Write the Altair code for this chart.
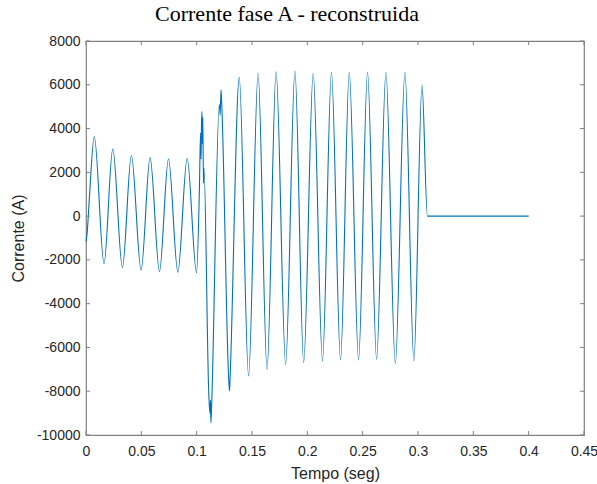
import altair as alt
import pandas as pd

# Waveform samples (time in s, current in A)
t_vals = [0.0000, 0.0010, 0.0030, 0.0075, 0.0163, 0.0242, 0.0329, 0.0410, 0.0498,
          0.0579, 0.0664, 0.0745, 0.0830, 0.0914, 0.0999,
          0.1025, 0.1035, 0.1040, 0.1044, 0.1048, 0.1052, 0.1056, 0.1061, 0.1066,
          0.1110, 0.1120, 0.1125, 0.1129, 0.1135,
          0.1205, 0.1212, 0.1220, 0.1226,
          0.1290, 0.1297, 0.1302,
          0.1385, 0.1469, 0.1555, 0.1636, 0.1718, 0.1804, 0.1888, 0.1967,
          0.2053, 0.2137, 0.2218, 0.2300, 0.2379, 0.2463, 0.2544, 0.2626,
          0.2710, 0.2795, 0.2882, 0.2963, 0.3036, 0.3085, 0.3090, 0.4000]
i_vals = [-1150, -800, 800, 3640, -2170, 3080, -2360, 2770, -2470,
          2670, -2530, 2620, -2560, 2640, -2590,
          1300, 3800, 2600, 4300, 4780, 3300, 4500, 1500, 2200,
          -8200, -9000, -8400, -9450, -8700,
          5100, 4600, 5770, 5200,
          -7500, -7990, -7400,
          6340, -7300, 6530, -7000, 6590, -6770, 6630, -6690,
          6530, -6620, 6570, -6570, 6570, -6570, 6570, -6540,
          6570, -6740, 6570, -6620, 6000, 0, 0, 0]

x_ticks = [0, 0.05, 0.1, 0.15, 0.2, 0.25, 0.3, 0.35, 0.4, 0.45]
y_ticks = [-10000, -8000, -6000, -4000, -2000, 0, 2000, 4000, 6000, 8000]

W, H = 498, 394
AXIS_COLOR = "#808080"
TEXT_COLOR = "#262626"

df = pd.DataFrame({"t": t_vals, "i": i_vals})
xt = pd.DataFrame({"t": x_ticks})
yt = pd.DataFrame({"i": y_ticks})

xscale = alt.Scale(domain=[0, 0.45], nice=False, zero=False)
yscale = alt.Scale(domain=[-10000, 8000], nice=False, zero=False)

line = alt.Chart(df).mark_line(color="#0072BD", strokeWidth=1.1, interpolate="monotone").encode(
    x=alt.X("t:Q", scale=xscale,
            axis=alt.Axis(title="Tempo (seg)", values=x_ticks, tickSize=0, labelPadding=9,
                          titlePadding=7, grid=False, domain=False,
                          labelExpr="'' + datum.value",
                          labelFlush=False, labelOverlap=False)),
    y=alt.Y("i:Q", scale=yscale,
            axis=alt.Axis(title="Corrente (A)", values=y_ticks, tickSize=0, labelPadding=6,
                          titlePadding=10, grid=False, domain=False,
                          labelExpr="'' + datum.value",
                          labelFlush=False, labelOverlap=False)),
)

tick_style = dict(color=AXIS_COLOR, strokeWidth=1)
xb = alt.Chart(xt).mark_rule(**tick_style).encode(
    x=alt.X("t:Q", scale=xscale), y=alt.value(H - 4), y2=alt.value(H))
xtop = alt.Chart(xt).mark_rule(**tick_style).encode(
    x=alt.X("t:Q", scale=xscale), y=alt.value(0), y2=alt.value(4))
yl = alt.Chart(yt).mark_rule(**tick_style).encode(
    y=alt.Y("i:Q", scale=yscale), x=alt.value(0), x2=alt.value(4))
yr = alt.Chart(yt).mark_rule(**tick_style).encode(
    y=alt.Y("i:Q", scale=yscale), x=alt.value(W - 4), x2=alt.value(W))

chart = alt.layer(line, xb, xtop, yl, yr).properties(
    width=W, height=H,
    title=alt.TitleParams("Corrente fase A - reconstruida", font="Liberation Serif",
                          fontSize=22, fontWeight="normal", color="black", offset=8,
                          anchor="middle", dx=-48),
    autosize=alt.AutoSizeParams(type="none"),
    padding={"left": 86, "top": 41, "right": 13, "bottom": 49},
).configure_view(
    stroke=AXIS_COLOR, strokeWidth=1.2
).configure_axis(
    labelFont="Liberation Sans", titleFont="Liberation Sans",
    labelFontSize=14, titleFontSize=16, labelColor=TEXT_COLOR, titleColor=TEXT_COLOR,
    titleFontWeight="normal"
)

chart.save("out.html", embed_options={"renderer": "svg", "actions": False})
